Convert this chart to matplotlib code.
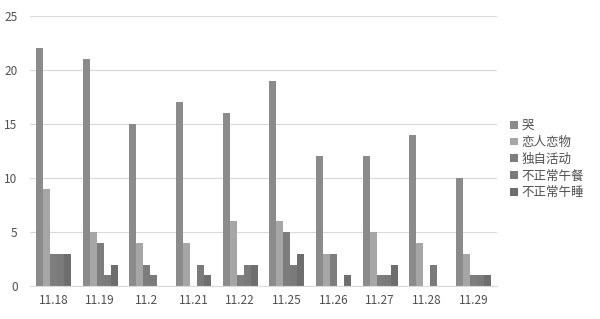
import numpy as np
import matplotlib
matplotlib.use("Agg")
import matplotlib.pyplot as plt

plt.rcParams["font.family"] = ["Noto Sans CJK SC", "DejaVu Sans"]

dates = ["11.18", "11.19", "11.2", "11.21", "11.22", "11.25", "11.26", "11.27", "11.28", "11.29"]
series_names = ["哭", "恋人恋物", "独自活动", "不正常午餐", "不正常午睡"]
ku = [22, 21, 15, 17, 16, 19, 12, 12, 14, 10]
lianren = [9, 5, 4, 4, 6, 6, 3, 5, 4, 3]
duzi = [3, 4, 2, 0, 1, 5, 3, 1, 0, 1]
wucan = [3, 1, 1, 2, 2, 2, 0, 1, 2, 1]
wushui = [3, 2, 0, 1, 2, 3, 1, 2, 0, 1]
colors = ["#8b8b8b", "#a6a6a6", "#7d7d7d", "#7a7a7a", "#6e6e6e"]

fig = plt.figure(figsize=(6, 3.19), dpi=100)
ax = fig.add_axes([0.05, 0.103, 0.778, 0.847])

x = np.arange(len(dates))
w = 0.15
for i, (vals, name, c) in enumerate(zip([ku, lianren, duzi, wucan, wushui], series_names, colors)):
    ax.bar(x + (i - 2) * w, vals, width=w, color=c, label=name, zorder=2)

ax.set_xlim(-0.5, len(dates) - 0.5)
ax.set_ylim(0, 25)
ax.set_yticks(range(0, 26, 5))
ax.set_xticks(x)
ax.set_xticklabels(dates)
ax.grid(axis="y", color="#d9d9d9", linewidth=0.8, zorder=0)
for s in ["top", "right", "left"]:
    ax.spines[s].set_visible(False)
ax.spines["bottom"].set_color("#d9d9d9")
ax.tick_params(axis="both", length=0, colors="#505050", labelsize=8.5)
ax.tick_params(axis="x", pad=6)
ax.tick_params(axis="y", pad=9)

ax.legend(loc="center left", bbox_to_anchor=(1.005, 0.47), frameon=False, fontsize=9,
          handlelength=0.6, handleheight=0.6, handletextpad=0.3, labelspacing=0.3,
          labelcolor="#505050")

fig.savefig("out.png", dpi=100)
